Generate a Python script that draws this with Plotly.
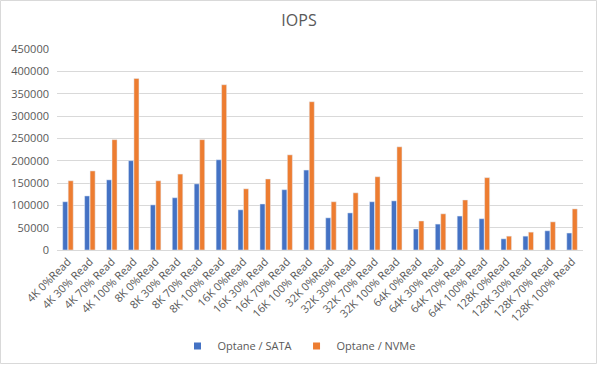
import plotly.graph_objects as go

categories = ["4K 0%Read", "4K 30% Read", "4K 70% Read", "4K 100% Read",
              "8K 0%Read", "8K 30% Read", "8K 70% Read", "8K 100% Read",
              "16K 0%Read", "16K 30% Read", "16K 70% Read", "16K 100% Read",
              "32K 0%Read", "32K 30% Read", "32K 70% Read", "32K 100% Read",
              "64K 0%Read", "64K 30% Read", "64K 70% Read", "64K 100% Read",
              "128K 0%Read", "128K 30% Read", "128K 70% Read", "128K 100% Read"]
sata = [108000, 121000, 157000, 200000,
        101000, 117000, 148000, 202000,
        90000, 103000, 135000, 179000,
        72000, 83000, 108000, 110000,
        47000, 58000, 76000, 70000,
        25000, 31000, 43000, 38000]
nvme = [155000, 177000, 247000, 384000,
        155000, 170000, 247000, 370000,
        137000, 159000, 213000, 332000,
        108000, 128000, 164000, 231000,
        65000, 81000, 112000, 162000,
        31000, 40000, 63000, 92000]
yticks = [0, 50000, 100000, 150000, 200000, 250000, 300000, 350000, 400000, 450000]
series_names = ["Optane / SATA", "Optane / NVMe"]
series_colors = ["#4472C4", "#ED7D31"]

W, H = 598, 365
ml, mr, mt, mb = 57, 15, 49, 115

fig = go.Figure()
for name, vals, col in zip(series_names, [sata, nvme], series_colors):
    fig.add_trace(go.Bar(x=categories, y=vals, name=name, marker_color=col,
                         showlegend=False, legendgroup=name))
for name, col in zip(series_names, series_colors):
    fig.add_trace(go.Scatter(x=[None], y=[None], mode="markers", name=name,
                             legendgroup=name,
                             marker=dict(symbol="square", size=7, color=col)))

pw = W - ml - mr
ph = H - mt - mb
fig.add_shape(type="rect", xref="paper", yref="paper",
              x0=-(ml - 0.5) / pw, x1=1 + (mr - 1.5) / pw,
              y0=-(mb - 1.5) / ph, y1=1 + (mt - 0.5) / ph,
              line=dict(color="#D9D9D9", width=1), layer="below")

fig.update_layout(
    width=W, height=H,
    margin=dict(l=ml, r=mr, t=mt, b=mb, autoexpand=False),
    paper_bgcolor="white", plot_bgcolor="white",
    font=dict(family="Open Sans, Liberation Sans, sans-serif", color="#595959", size=11),
    title=dict(text="IOPS", x=0.5, xanchor="center", y=1 - 20 / H, yanchor="middle",
               font=dict(size=16, color="#595959")),
    barmode="group", bargap=0.5, bargroupgap=0.08,
    showlegend=True,
    legend=dict(orientation="h", x=0.5, xanchor="center", xref="container",
                y=1 - 346 / H, yanchor="middle", yref="container",
                font=dict(size=11, color="#595959"), itemwidth=30),
    xaxis=dict(tickangle=-45, showgrid=False, showline=True, linecolor="#D9D9D9",
               ticks="", tickfont=dict(size=11), automargin=False),
    yaxis=dict(range=[0, 450000], tickvals=yticks, ticktext=[str(v) for v in yticks],
               showgrid=True, gridcolor="#D9D9D9", zeroline=False, showline=False,
               ticks="", tickfont=dict(size=11), automargin=False, ticklabelstandoff=7),
)
fig.write_html("out.html", post_script="document.body.style.margin='0';",
               config={"displayModeBar": False})
